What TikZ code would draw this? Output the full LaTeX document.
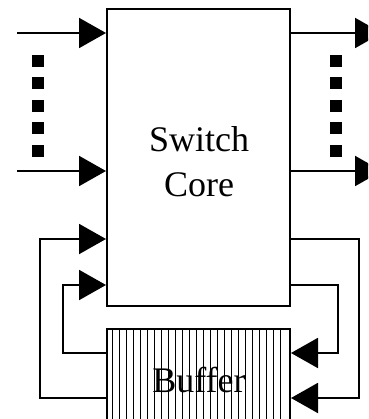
\documentclass[tikz,border=0pt]{standalone}
\usepackage{fontspec}
\setmainfont{Liberation Serif}
\usetikzlibrary{arrows.meta}
\begin{document}
\begin{tikzpicture}[x=1pt,y=1pt,
  box/.style={draw, line width=2pt, rectangle, inner sep=0pt},
  conn/.style={line width=2pt, -{Triangle[length=27pt,width=30pt]}},
  plain/.style={line width=2pt},
  hatch/.style={line width=0.9pt},
  lbl/.style={font=\fontsize{36}{45}\selectfont, align=center, inner sep=0pt},
  dotsq/.style={fill=black}]
\useasboundingbox (0,0) rectangle (368,-419);
\clip (0,0) rectangle (368,-419);
% switch core
\node[box, minimum width=183pt, minimum height=297pt] (core) at (198.5,-157.5) {};
\node[lbl] (coretext) at (199,-162) {Switch\\Core};
% buffer (extends past the lower edge)
\node[box, minimum width=183pt, minimum height=101pt] (buf) at (198.5,-379.5) {};
\foreach \i in {0,...,24} {
  \draw[hatch] ({112.7+6.98*\i},-330) -- ({112.7+6.98*\i},-430);
}
\node[lbl, anchor=base] (buftext) at (199,-392) {Buffer};
% inputs
\coordinate (in1) at (17,-33);
\coordinate (in2) at (17,-171);
\draw[conn] (in1) -- (in1 -| core.west);
\draw[conn] (in2) -- (in2 -| core.west);
% outputs
\coordinate (out1) at (382,-33);
\coordinate (out2) at (382,-171);
\draw[conn] (out1 -| core.east) -- (out1);
\draw[conn] (out2 -| core.east) -- (out2);
% dots
\foreach \y in {61,83.5,106,128.5,151.5} {
  \fill[dotsq] (32,-\y+6) rectangle (44,-\y-6);
  \fill[dotsq] (330,-\y+6) rectangle (342,-\y-6);
}
% feedback from buffer to core (left)
\coordinate (lo) at (40,-239);
\coordinate (li) at (63,-285);
\draw[conn] (buf.west |- 0,-398) -| (lo) -- (lo -| core.west);
\draw[conn] (buf.west |- 0,-353) -| (li) -- (li -| core.west);
% feedback from core to buffer (right)
\coordinate (ro) at (359,-239);
\coordinate (ri) at (338,-285);
\draw[conn] (ro -| core.east) -- (ro) |- (buf.east |- 0,-398);
\draw[conn] (ri -| core.east) -- (ri) |- (buf.east |- 0,-353);
\end{tikzpicture}
\end{document}
